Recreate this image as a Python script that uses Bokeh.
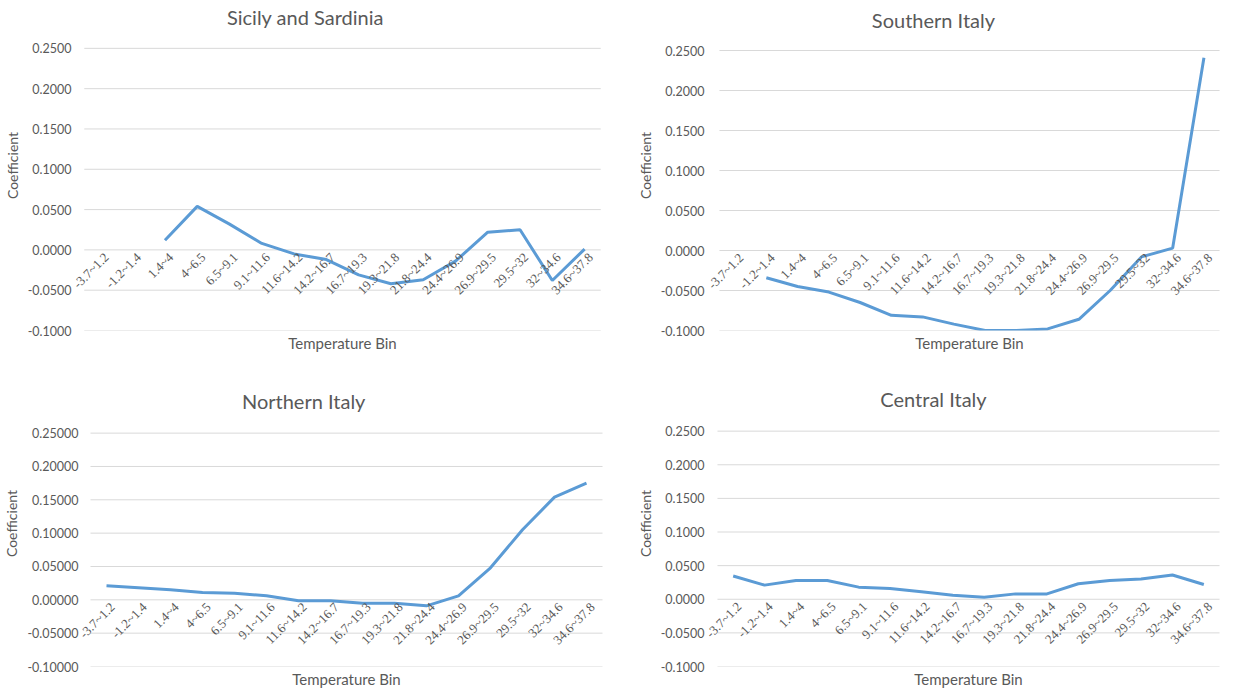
import math
from bokeh.plotting import figure
from bokeh.layouts import column, row
from bokeh.models import (FixedTicker, NumeralTickFormatter, Title, Label,
                          LabelSet, ColumnDataSource, FactorRange, Range1d)
from bokeh.embed import file_html
from bokeh.resources import INLINE

nan = float("nan")

bins = ["-3.7~1.2", "-1.2~1.4", "1.4~4", "4~6.5", "6.5~9.1", "9.1~11.6",
        "11.6~14.2", "14.2~16.7", "16.7~19.3", "19.3~21.8", "21.8~24.4",
        "24.4~26.9", "26.9~29.5", "29.5~32", "32~34.6", "34.6~37.8"]

sicily = [nan, nan, 0.012, 0.054, 0.032, 0.008, -0.005, -0.012, -0.031,
          -0.042, -0.037, -0.014, 0.022, 0.025, -0.038, 0.001]
southern = [nan, -0.034, -0.045, -0.052, -0.065, -0.081, -0.083, -0.092,
            -0.100, -0.100, -0.098, -0.086, -0.050, -0.008, 0.003, 0.241]
northern = [0.021, 0.018, 0.015, 0.011, 0.010, 0.006, -0.0015, -0.0015,
            -0.005, -0.005, -0.009, 0.006, 0.048, 0.105, 0.154, 0.175]
central = [0.0345, 0.021, 0.028, 0.028, 0.018, 0.016, 0.011, 0.006, 0.003,
           0.008, 0.008, 0.023, 0.028, 0.030, 0.036, 0.022]

y_ticks = [-0.10, -0.05, 0.0, 0.05, 0.10, 0.15, 0.20, 0.25]
Y_MIN, Y_MAX = -0.10, 0.25

FONT = "Lato"
GREY = "#595959"
LINE = "#5b9bd5"
GRID = "#d9d9d9"


def panel(title, values, fmt, fig_w, fig_h, grid_left, frame_right,
          pad, grid_top, grid_bottom, title_cx, title_cy, label_gap=13):
    """Geometry arguments are in pixels relative to the figure's top-left."""
    n = len(bins)
    # plot-area span of the categories, padded so that rotated labels fit
    grid_right = (frame_right + pad * grid_left / n) / (1 + pad / n)
    step = (grid_right - grid_left) / n
    frame_left = grid_left - pad * step
    mbl = int(round(frame_left))
    mbr = fig_w - int(round(frame_right))
    # frame runs from the very top of the figure down to the lowest gridline
    per_px = (Y_MAX - Y_MIN) / (grid_bottom - grid_top)
    y_end = Y_MAX + grid_top * per_px

    p = figure(x_range=FactorRange(factors=bins, range_padding=pad,
                                   range_padding_units="absolute"),
               y_range=Range1d(Y_MIN, y_end),
               width=fig_w, height=fig_h,
               output_backend="svg", toolbar_location=None,
               min_border_left=mbl, min_border_right=mbr,
               min_border_top=0, min_border_bottom=fig_h - grid_bottom)
    p.outline_line_color = None
    p.background_fill_color = "white"
    p.border_fill_color = "white"
    p.xgrid.visible = False
    p.ygrid.visible = False

    # horizontal gridlines spanning the categories only
    p.segment(x0=[0] * len(y_ticks), x1=[n] * len(y_ticks),
              y0=y_ticks, y1=y_ticks, line_color=GRID, line_width=1)

    p.line(x=bins, y=values, line_color=LINE, line_width=3)

    # chart title, centred over the chart area
    p.add_layout(Label(x=title_cx - frame_left, y=grid_bottom - title_cy,
                       x_units="screen", y_units="screen",
                       text=title, text_align="center", text_baseline="middle",
                       text_font=FONT, text_font_size="20px", text_color=GREY))

    # y axis (labels end label_gap px left of the first category edge)
    yax = p.yaxis[0]
    yax.ticker = FixedTicker(ticks=y_ticks)
    yax.formatter = NumeralTickFormatter(format=fmt)
    yax.axis_line_color = None
    yax.major_tick_line_color = None
    yax.minor_tick_line_color = None
    yax.major_tick_in = 0
    yax.major_tick_out = 0
    yax.major_label_text_font = FONT
    yax.major_label_text_font_size = "12.5px"
    yax.major_label_text_color = GREY
    yax.major_label_standoff = int(round(label_gap - pad * step))
    yax.axis_label = "Coefficient"
    yax.axis_label_text_font = FONT
    yax.axis_label_text_font_size = "14px"
    yax.axis_label_text_font_style = "normal"
    yax.axis_label_text_color = GREY
    yax.axis_label_standoff = 4

    # category labels along the zero line
    p.xaxis.visible = False
    src = ColumnDataSource(dict(x=bins, y=[0.0] * n, text=bins))
    p.add_layout(LabelSet(x="x", y="y", text="text", source=src,
                          angle=math.pi / 4, text_align="right",
                          text_baseline="middle", x_offset=6, y_offset=-5,
                          text_font=FONT, text_font_size="13px",
                          text_color=GREY))

    p.add_layout(Title(text="Temperature Bin", align="center",
                       text_font=FONT, text_font_size="15px",
                       text_font_style="normal", text_color=GREY,
                       standoff=2), "below")
    return p


# top row: figures from page y 0 to 380; bottom row from 380 to 688
p1 = panel("Sicily and Sardinia", sicily, "0.0000", 619, 380,
           78, 618, 0.55, 48, 331, 299, 17)
p2 = panel("Southern Italy", southern, "0.0000", 612, 380,
           100, 611, 0.35, 50, 330, 314, 19, label_gap=15)
p3 = panel("Northern Italy", northern, "0.00000", 619, 308,
           84, 618, 0.5, 53, 288, 297, 22, label_gap=12)
p4 = panel("Central Italy", central, "0.0000", 612, 308,
           98, 611, 0.35, 51, 288, 314, 20, label_gap=13)

layout = column(row(p1, p2), row(p3, p4))

open("out.html", "w").write(file_html(layout, INLINE))
